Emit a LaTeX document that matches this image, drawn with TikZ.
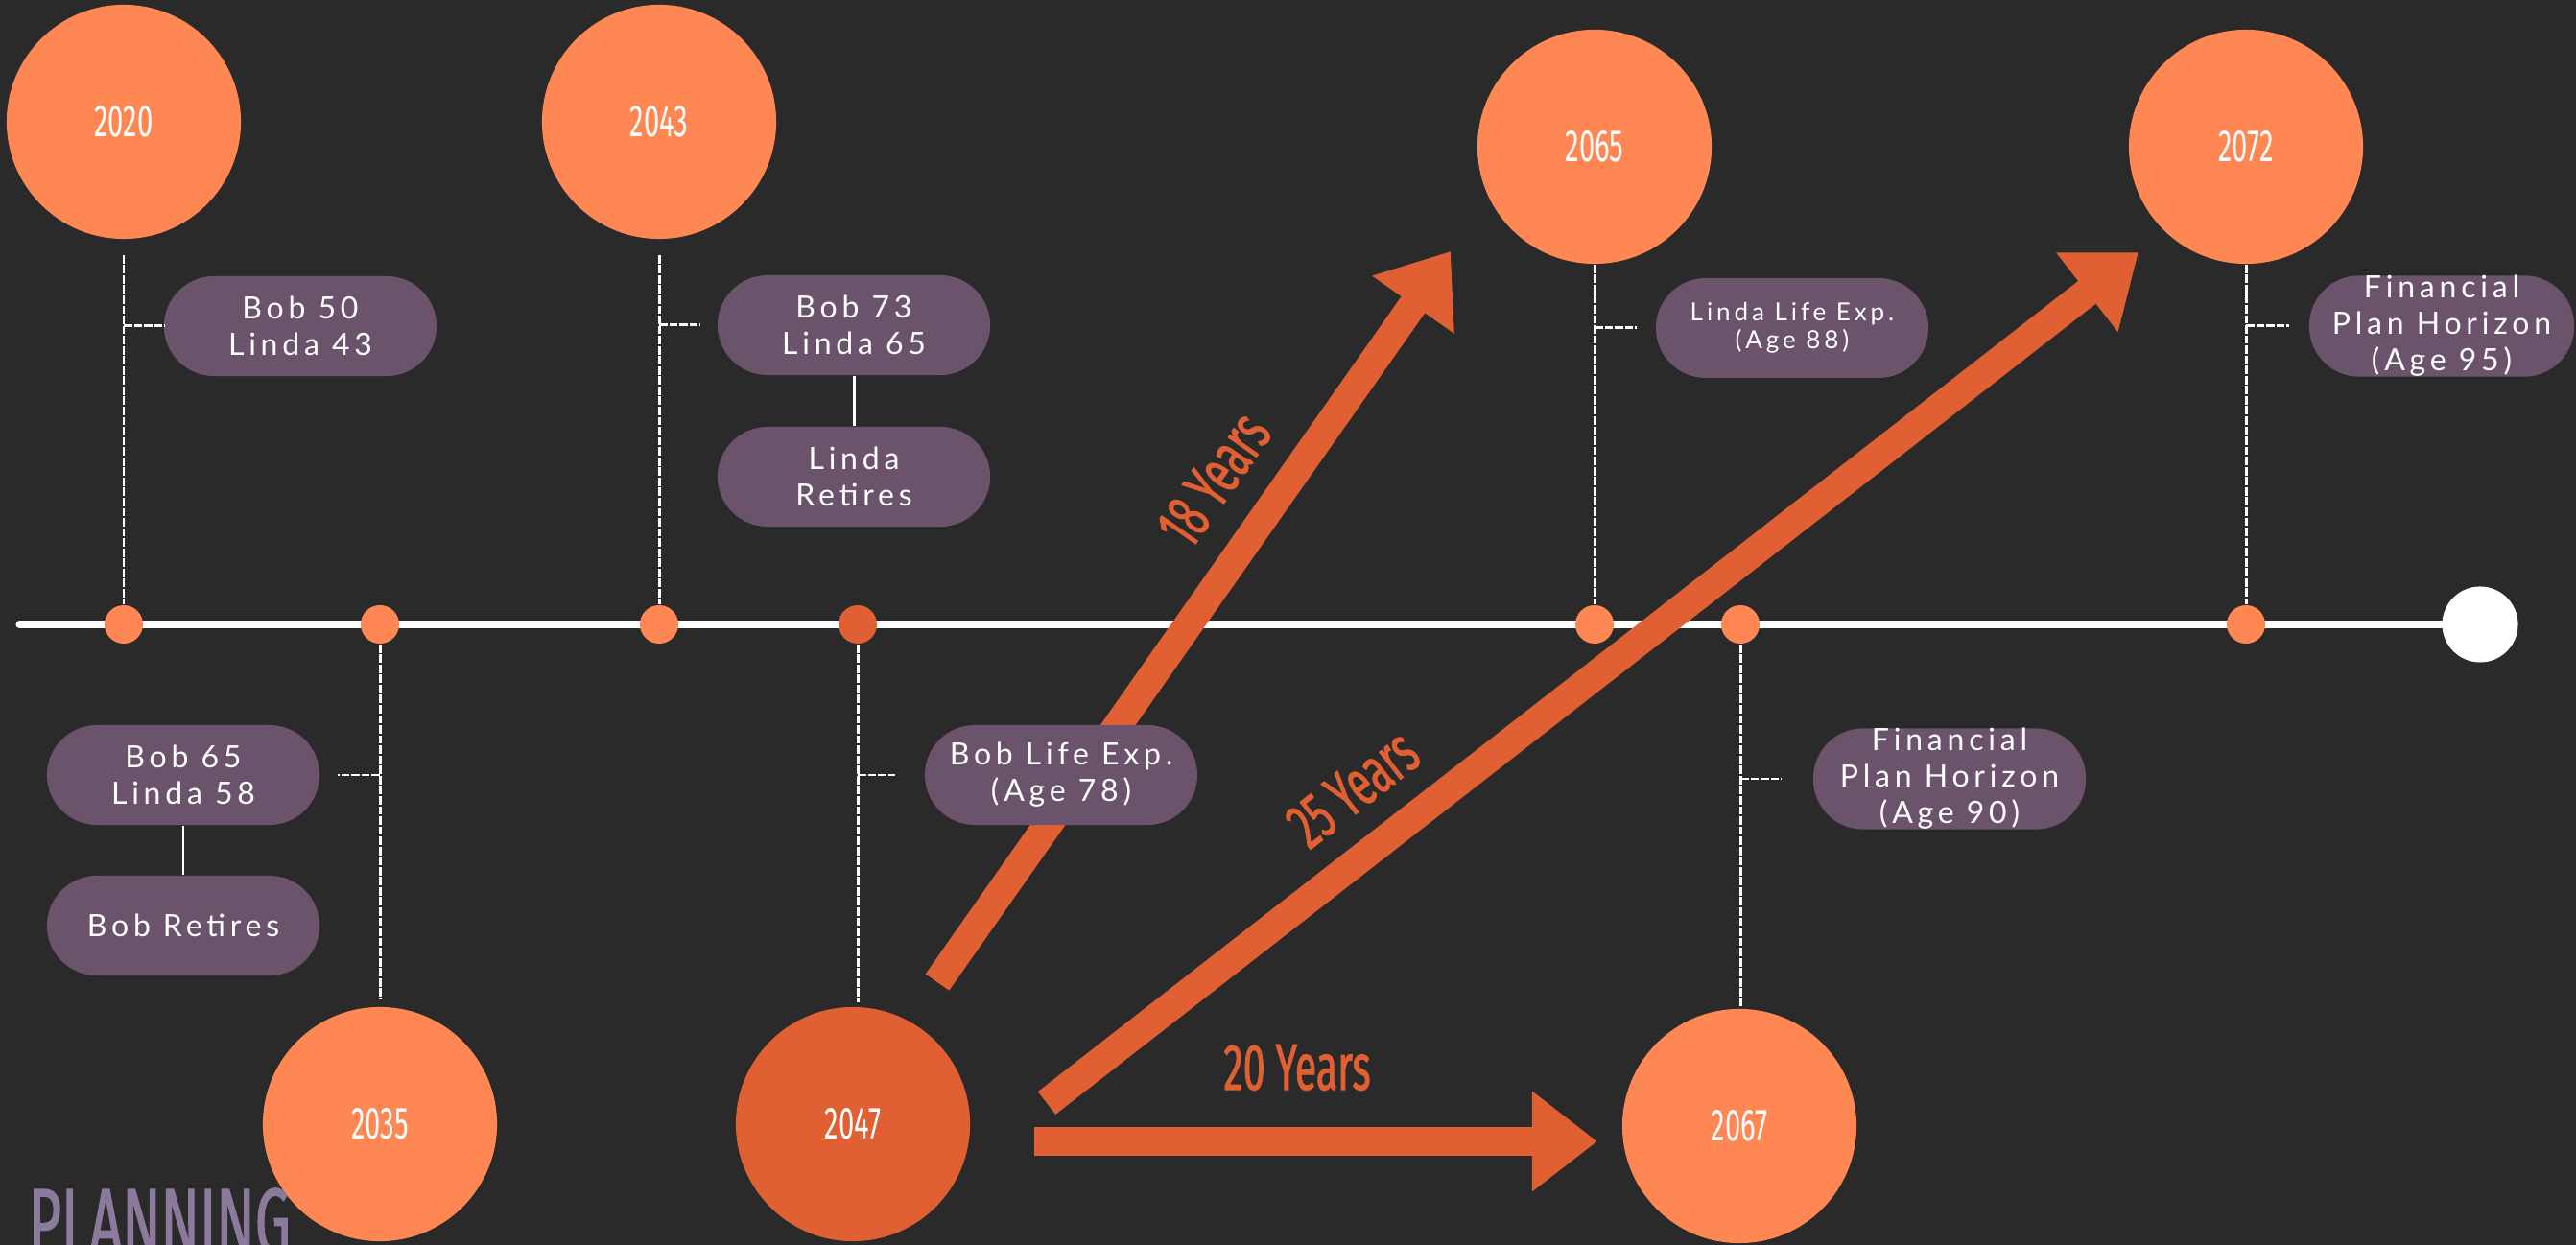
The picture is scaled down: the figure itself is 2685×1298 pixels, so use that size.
\documentclass[tikz,border=0pt]{standalone}
\usepackage{fontspec}
\usetikzlibrary{arrows.meta,calc}
\newfontfamily\boxfont[LetterSpace=15]{Lato}
\newfontfamily\condfont[FakeStretch=0.62]{Fira Sans}
\newfontfamily\condheavy[FakeStretch=0.6,FakeBold=1.2]{Fira Sans}
\definecolor{bgdark}{HTML}{2A2A2A}
\definecolor{ballorange}{HTML}{FF8754}
\definecolor{deeporange}{HTML}{E06033}
\definecolor{pillpurple}{HTML}{6A536B}
\definecolor{titlepurple}{HTML}{8B7A9C}

\begin{document}
\begin{tikzpicture}[x=0.01cm,y=-0.01cm,
  ball/.style={circle,fill=ballorange,minimum size=2.44cm,inner sep=0pt,text=white,font=\condfont\fontsize{13.4}{14}\selectfont},
  tickdot/.style={circle,fill=ballorange,minimum size=0.4cm,inner sep=0pt},
  pill/.style={rectangle,rounded corners=0.52cm,fill=pillpurple,minimum width=2.84cm,minimum height=1.04cm,inner sep=0pt,align=center,text=white,font=\boxfont\fontsize{9.1}{10.8}\selectfont},
  stem/.style={white,line width=0.85pt,dash pattern=on 2.5pt off 0.5pt},
  link/.style={white,line width=0.85pt},
  bigarrow/.style={deeporange,line width=0.3cm,-{Triangle[length=0.68cm,width=1cm]}},
  spanlabel/.style={text=deeporange,font=\condheavy\fontsize{19.5}{20}\selectfont}]
  \fill[bgdark] (0,0) rectangle (2685,1298);
  \useasboundingbox (0,0) rectangle (2685,1298);

  % timeline
  \coordinate (start) at (20,651);
  \node[circle,fill=white,minimum size=0.79cm,inner sep=0pt] (end) at (2585,651) {};
  \draw[white,line width=2pt,line cap=round] (start) -- (end);
  \node[tickdot] (d2020) at (129,651) {};
  \node[tickdot] (d2035) at (396,651) {};
  \node[tickdot] (d2043) at (687,651) {};
  \node[tickdot,fill=deeporange] (d2047) at (894,651) {};
  \node[tickdot] (d2065) at (1662,651) {};
  \node[tickdot] (d2067) at (1814,651) {};
  \node[tickdot] (d2072) at (2341,651) {};

  % spans
  \coordinate (t18) at (977,1024);  \coordinate (h18) at (1512,262);
  \coordinate (t25) at (1091,1150); \coordinate (h25) at (2229,263);
  \coordinate (t20) at (1078,1190); \coordinate (h20) at (1665,1190);
  \draw[bigarrow] (t18) -- (h18);
  \draw[bigarrow] (t25) -- (h25);
  \draw[bigarrow] (t20) -- (h20);
  \node[spanlabel,rotate=55] (l18) at (1265,500) {18 Years};
  \node[spanlabel,rotate=38] (l25) at (1410,822) {25 Years};
  \node[spanlabel] (l20) at (1352,1113) {20 Years};

  % years
  \node[ball] (y2020) at (129,127) {2020};
  \node[ball] (y2043) at (687,127) {2043};
  \node[ball] (y2065) at (1662,153) {2065};
  \node[ball] (y2072) at (2341,153) {2072};
  \node[ball] (y2035) at (396,1172) {2035};
  \node[ball,fill=deeporange] (y2047) at (889,1172) {2047};
  \node[ball] (y2067) at (1813,1174) {2067};

  \draw[stem] ($(y2020.south)+(0,16)$) -- (d2020);
  \draw[stem] ($(y2043.south)+(0,16)$) -- (d2043);
  \draw[stem] (y2065) -- (d2065);
  \draw[stem] (y2072) -- (d2072);
  \draw[stem] (d2035) -- ($(d2035 |- y2035.north)+(0,-7)$);
  \draw[stem] (d2047) -- ($(d2047 |- y2047.north)+(0,-4)$);
  \draw[stem] (d2067) -- ($(d2067 |- y2067.north)+(0,-2)$);

  % notes
  \node[pill] (b2020) at (313,340) {Bob 50\\Linda 43};
  \node[pill] (b2043) at (890,339) {Bob 73\\Linda 65};
  \node[pill] (r2043) at (890,497) {Linda\\Retires};
  \node[pill] (b2035) at (191,808) {Bob 65\\Linda 58};
  \node[pill] (r2035) at (191,965) {Bob Retires};
  \node[pill] (b2047) at (1106,808) {Bob Life Exp.\\(Age 78)};
  \node[pill,font=\boxfont\fontsize{7.4}{8.3}\selectfont] (b2065) at (1868,342) {Linda Life Exp.\\(Age 88)};
  \node[pill,minimum width=2.76cm] (b2072) at (2545,340) {Financial\\Plan Horizon\\(Age 95)};
  \node[pill] (b2067) at (2032,812) {Financial\\Plan Horizon\\(Age 90)};

  \draw[stem] (d2020 |- b2020) -- ++(43,0);
  \draw[stem] (d2043 |- b2043) -- ++(43,0);
  \draw[stem] (d2035 |- b2035) -- ++(-44,0);
  \draw[stem] (d2047 |- b2047) -- ++(39,0);
  \draw[stem] (d2065 |- b2065) -- ++(44,0);
  \draw[stem] (d2072 |- b2072) -- ++(45,0);
  \draw[stem] (d2067 |- b2067) -- ++(43,0);
  \draw[link] (b2043) -- (r2043);
  \draw[link] (b2035) -- (r2035);

  \node[anchor=north west,inner sep=0pt,text=titlepurple,font=\condheavy\fontsize{28}{30}\selectfont] (title) at (29,1238) {PLANNING};
\end{tikzpicture}
\end{document}
